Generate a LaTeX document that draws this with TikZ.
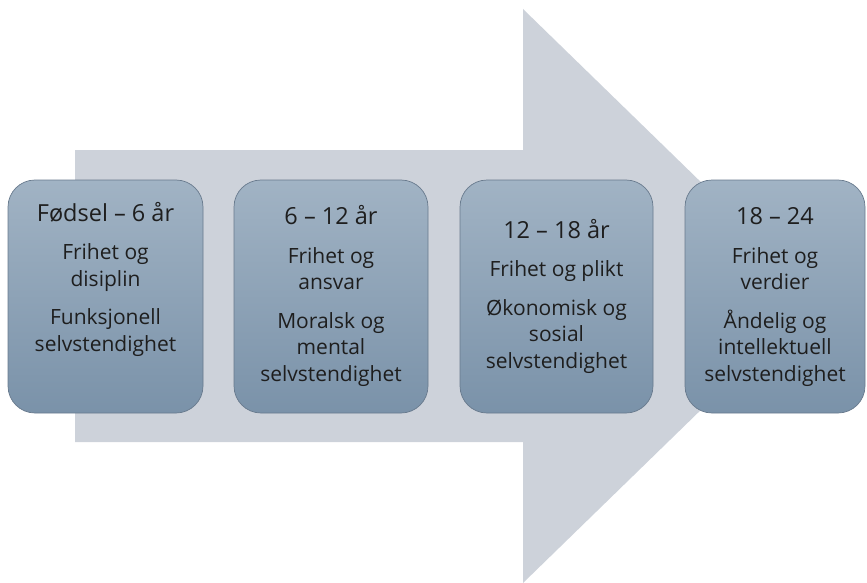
\documentclass[tikz,border=0pt]{standalone}
\usepackage{fontspec}
\setmainfont{Open Sans}
\newcommand\stagetitlefont{\fontsize{23.5}{26}\selectfont}
\begin{document}
\begin{tikzpicture}[x=1pt,y=-1pt,
  arrowfill/.style={fill={rgb,255:red,205;green,210;blue,218}, draw=none},
  stage/.style={draw={rgb,255:red,104;green,122;blue,141}, line width=0.7pt,
    rounded corners=27pt, top color={rgb,255:red,161;green,179;blue,196},
    bottom color={rgb,255:red,122;green,146;blue,169}, inner sep=0pt},
  stagetext/.style={align=center, text={rgb,255:red,30;green,30;blue,30},
    font=\fontsize{21}{26.5}\selectfont, inner sep=0pt}
]
\useasboundingbox (0,0) rectangle (867,583);

% big background arrow
\path[arrowfill] (75,150) -- (523,150) -- (523,9) -- (818,296)
  -- (523,583) -- (523,442) -- (75,442) -- cycle;

% stage boxes
\node[stage, minimum width=195pt, minimum height=233pt] (b1) at (105.5,296.5) {};
\node[stage, minimum width=194pt, minimum height=233pt] (b2) at (331,296.5) {};
\node[stage, minimum width=193pt, minimum height=233pt] (b3) at (556.5,296.5) {};
\node[stage, minimum width=180pt, minimum height=233pt] (b4) at (775,296.5) {};

% texts
\node[stagetext] (t1) at (105.5,279) {{\stagetitlefont Fødsel – 6 år}\\[12pt]Frihet og\\disiplin\\[12pt]Funksjonell\\selvstendighet};
\node[stagetext] (t2) at (331,296) {{\stagetitlefont 6 – 12 år}\\[12pt]Frihet og\\ansvar\\[12pt]Moralsk og\\mental\\selvstendighet};
\node[stagetext] (t3) at (556.5,296) {{\stagetitlefont 12 – 18 år}\\[12pt]Frihet og plikt\\[12pt]Økonomisk og\\sosial\\selvstendighet};
\node[stagetext] (t4) at (775,297) {{\stagetitlefont 18 – 24}\\[12pt]Frihet og\\verdier\\[12pt]Åndelig og\\intellektuell\\selvstendighet};
\end{tikzpicture}
\end{document}
